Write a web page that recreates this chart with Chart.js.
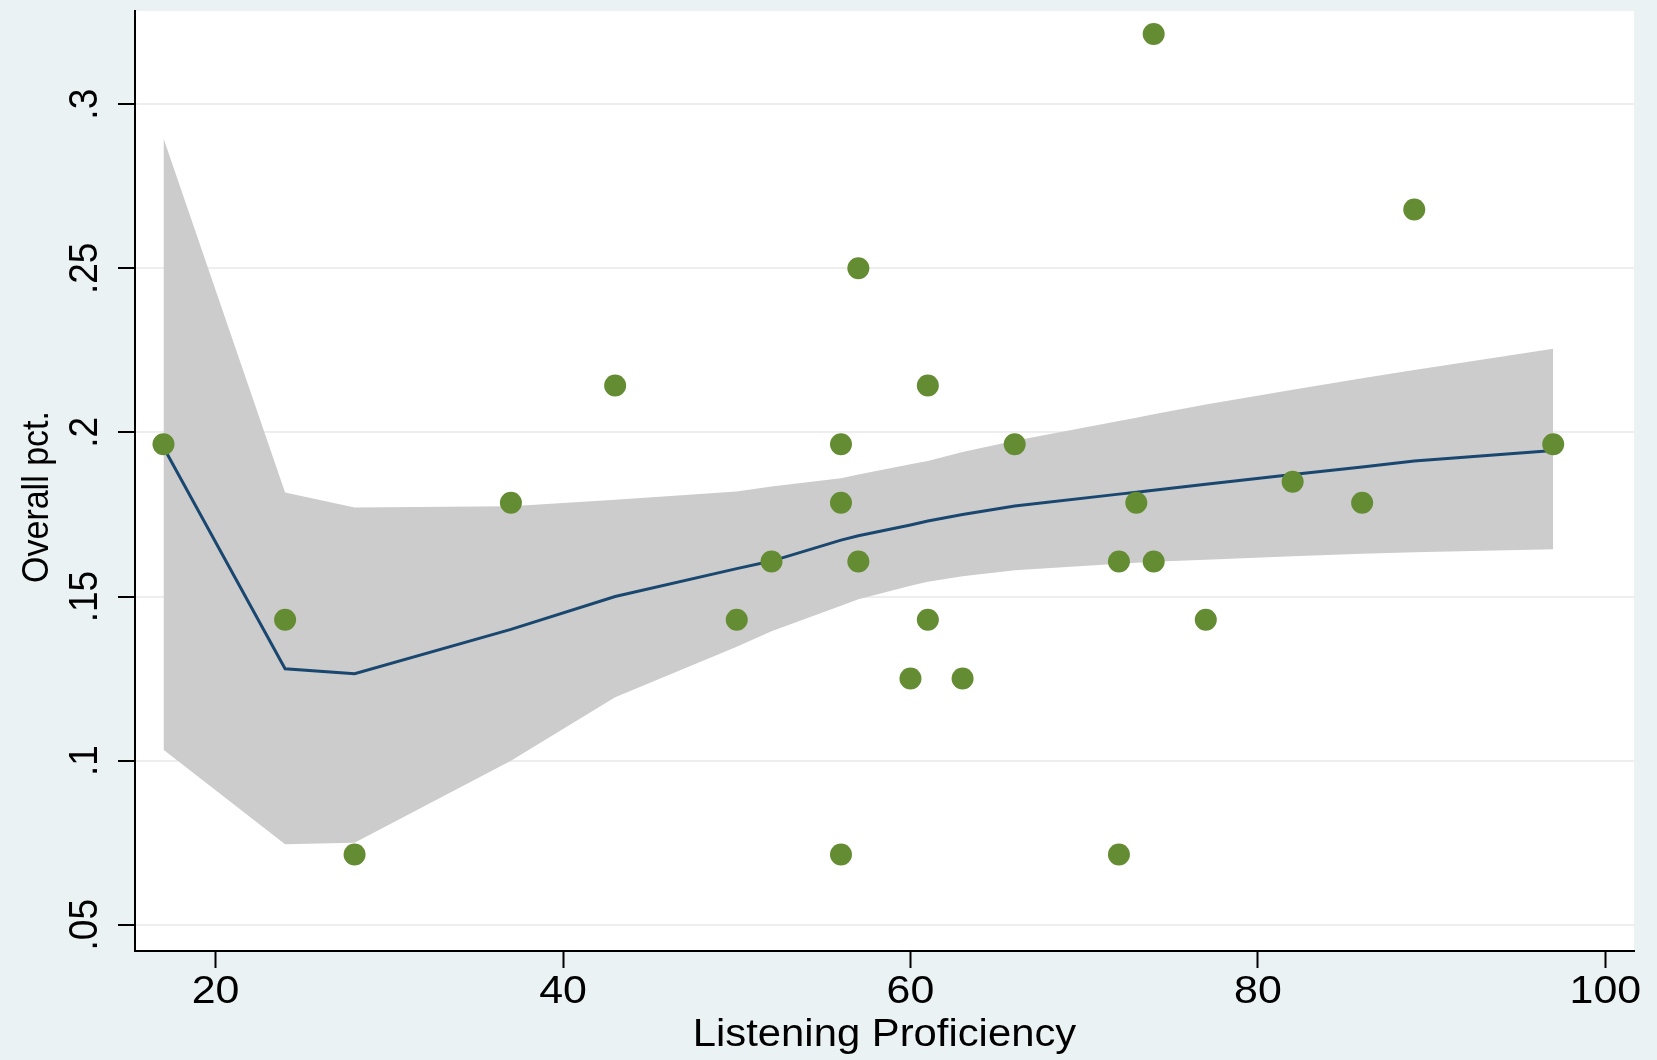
<!DOCTYPE html>
<html>
<head>
<meta charset="utf-8">
<script src="https://cdn.jsdelivr.net/npm/chart.js@4.4.1/dist/chart.umd.min.js"></script>
<style>
  html, body { margin: 0; padding: 0; background: #eaf2f3; }
  #wrap { width: 1657px; height: 1060px; }
</style>
</head>
<body>
<div id="wrap"><canvas id="plot" width="1657" height="1060"></canvas></div>
<script>
// Scatter observations
var obsX = [17, 24, 28, 37, 43, 50, 52, 56, 56, 56, 57, 57, 60, 61, 61, 63, 66, 72, 72, 73, 74, 74, 77, 82, 86, 89, 97];
var obsY = [.1964, .1429, .0714, .1786, .2143, .1429, .1607, .1964, .1786, .0714, .25, .1607, .125, .2143, .1429,
            .125, .1964, .1607, .0714, .1786, .3214, .1607, .1429, .185, .1786, .2679, .1964];

// Fitted line and confidence band, at the distinct x values
var fitX   = [17, 24, 28, 37, 43, 50, 52, 56, 57, 60, 61, 63, 66, 72, 73, 74, 77, 82, 86, 89, 97];
var fitY   = [.1955, .1280, .1265, .1400, .1500, .1585, .1608, .1672, .1685, .1718, .1730, .1750, .1776,
              .1812, .1818, .1824, .1842, .1872, .1895, .1913, .1945];
var bandHi = [.2896, .1817, .1771, .1775, .1795, .1820, .1835, .1860, .1872, .1903, .1913, .1940, .1975,
              .2035, .2045, .2055, .2085, .2130, .2165, .2190, .2255];
var bandLo = [.1033, .0745, .0750, .1000, .1193, .1347, .1394, .1472, .1492, .1533, .1545, .1562, .1580,
              .1600, .1603, .1606, .1612, .1623, .1630, .1635, .1644];

// Axes
var xTicks = [20, 40, 60, 80, 100];
var xTickLabels = ['20', '40', '60', '80', '100'];
var yTicks = [.05, .1, .15, .2, .25, .3];
var yTickLabels = ['.05', '.1', '.15', '.2', '.25', '.3'];
var xTitle = 'Listening Proficiency';
var yTitle = 'Overall pct.';

var FONT = '"Liberation Sans", Arial, Helvetica, sans-serif';
var SX = 1.1; // source graph is a bit stretched sideways

function pairs(xs, ys) {
    var out = [];
    for (var i = 0; i < xs.length; i++) out.push({x: xs[i], y: ys[i]});
    return out;
}

// Backgrounds and hand drawn axis text (Stata style, rotated y labels)
var stataFrame = {
    id: 'stataFrame',
    beforeDraw: function(chart) {
        var ctx = chart.ctx, a = chart.chartArea;
        ctx.save();
        ctx.fillStyle = '#eaf2f3';
        ctx.fillRect(0, 0, chart.width, chart.height);
        ctx.fillStyle = '#ffffff';
        ctx.fillRect(a.left, a.top, a.right - a.left, a.bottom - a.top);
        ctx.restore();
    },
    afterDraw: function(chart) {
        var ctx = chart.ctx, a = chart.chartArea;
        var xs = chart.scales.x, ys = chart.scales.y;
        ctx.save();
        ctx.fillStyle = '#000';
        ctx.textAlign = 'center';
        ctx.textBaseline = 'middle';

        ctx.font = '39px ' + FONT;
        xTicks.forEach(function(v, i) {
            ctx.save();
            ctx.translate(xs.getPixelForValue(v), 992);
            ctx.scale(SX, 1);
            ctx.fillText(xTickLabels[i], 0, 0);
            ctx.restore();
        });

        ctx.font = '37px ' + FONT;
        yTicks.forEach(function(v, i) {
            ctx.save();
            ctx.translate(86, ys.getPixelForValue(v));
            ctx.scale(SX, 1);
            ctx.rotate(-Math.PI / 2);
            ctx.fillText(yTickLabels[i], 0, 0);
            ctx.restore();
        });

        ctx.font = '38px ' + FONT;
        ctx.save();
        ctx.translate((a.left + a.right) / 2, 1036);
        ctx.scale(SX, 1);
        ctx.fillText(xTitle, 0, 0);
        ctx.restore();

        ctx.font = '34px ' + FONT;
        ctx.save();
        ctx.translate(38, 497);
        ctx.scale(SX, 1);
        ctx.rotate(-Math.PI / 2);
        ctx.fillText(yTitle, 0, 0);
        ctx.restore();

        ctx.restore();
    }
};

new Chart(document.getElementById('plot'), {
    type: 'scatter',
    data: {
        datasets: [{
            label: 'obs',
            data: pairs(obsX, obsY),
            backgroundColor: '#648c32',
            borderWidth: 0,
            pointRadius: 11,
            order: 0
        }, {
            type: 'line',
            label: 'fit',
            data: pairs(fitX, fitY),
            borderColor: '#1a476f',
            borderWidth: 3,
            pointRadius: 0,
            tension: 0,
            fill: false,
            order: 1
        }, {
            type: 'line',
            label: 'hi',
            data: pairs(fitX, bandHi),
            borderWidth: 0,
            borderColor: 'rgba(0,0,0,0)',
            pointRadius: 0,
            tension: 0,
            fill: false,
            order: 3
        }, {
            type: 'line',
            label: 'lo',
            data: pairs(fitX, bandLo),
            borderWidth: 0,
            borderColor: 'rgba(0,0,0,0)',
            backgroundColor: '#cccccc',
            pointRadius: 0,
            tension: 0,
            fill: '-1',
            order: 2
        }]
    },
    options: {
        responsive: false,
        animation: false,
        devicePixelRatio: 1,
        layout: { padding: { top: 8, right: 23, left: 0, bottom: 0 } },
        plugins: {
            legend: { display: false },
            tooltip: { enabled: false }
        },
        scales: {
            x: {
                type: 'linear',
                min: 15.36,
                max: 101.65,
                afterBuildTicks: function(scale) {
                    scale.ticks = xTicks.map(function(v) { return {value: v}; });
                },
                afterFit: function(scale) { scale.height = 109; },
                ticks: { display: false },
                grid: {
                    drawOnChartArea: false,
                    drawTicks: true,
                    tickLength: 17,
                    tickColor: '#000',
                    tickWidth: 2
                },
                border: { display: true, color: '#000', width: 2 }
            },
            y: {
                type: 'linear',
                min: 0.0420,
                max: 0.3284,
                afterBuildTicks: function(scale) {
                    scale.ticks = yTicks.map(function(v) { return {value: v}; });
                },
                afterFit: function(scale) { scale.width = 135; },
                ticks: { display: false },
                grid: {
                    color: '#eeeeee',
                    lineWidth: 2,
                    drawTicks: true,
                    tickLength: 17,
                    tickColor: '#000',
                    tickWidth: 2
                },
                border: { display: true, color: '#000', width: 2 }
            }
        }
    },
    plugins: [stataFrame]
});
</script>
</body>
</html>
